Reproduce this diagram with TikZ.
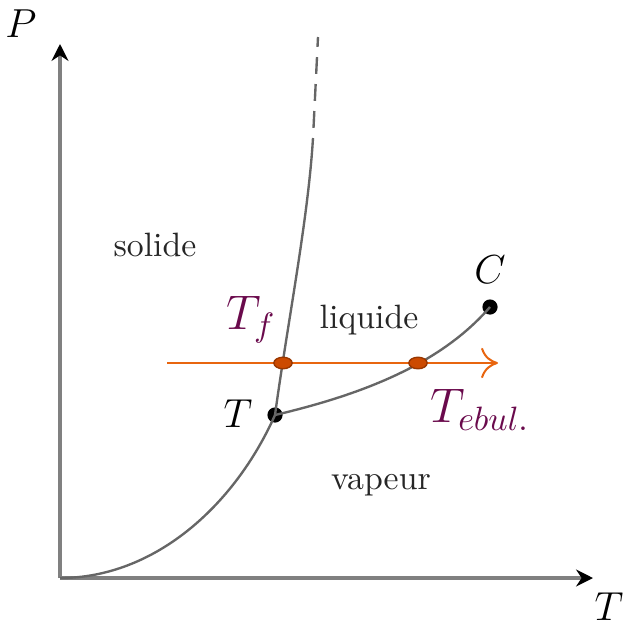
\documentclass[tikz,border=0pt]{standalone}
\usetikzlibrary{arrows.meta, shapes.geometric}
\definecolor{phase}{HTML}{6A0A4C}
\definecolor{coupe}{HTML}{E8650F}
\definecolor{pt}{HTML}{CC4A00}

\begin{document}
\begin{tikzpicture}[
    x=0.0104cm, y=-0.0104cm,
    axe/.style={draw=black!50, line width=1.0pt, -{Stealth[black, length=5pt, width=5pt]}},
    courbe/.style={draw=black!60, line width=0.7pt},
    lab/.style={text=black!85},
    dot/.style={circle, fill=black, inner sep=0pt, minimum size=4.5pt},
    inter/.style={ellipse, draw=pt!75!black, fill=pt, line width=0.4pt,
                  inner sep=0pt, minimum width=0.19cm, minimum height=0.12cm},
    tlab/.style={text=phase, font=\Large},
]
\useasboundingbox (0,0) rectangle (625,625);

% axes
\coordinate (o) at (60,578);
\coordinate (ptop) at (60,44);
\coordinate (tend) at (593,578);
\draw[axe] (o) -- (ptop);
\draw[axe] (o) -- (tend);
\node[font=\large] (pl) at (21,24) {$P$};
\node[font=\large] (tl) at (609,607) {$T$};

% points
\node[dot] (tp) at (275,415) {};
\node[dot] (cp) at (490,307) {};
\node[font=\large] (tpl) at (238,414) {$T$};
\node[font=\large] (cpl) at (490,270) {$C$};

% equilibrium curves
\coordinate (fus) at (313,138);
\coordinate (fustop) at (318,37);
\draw[courbe] (o) .. controls (155,578) and (235,505) .. (tp.center);
\draw[courbe] (tp.center) .. controls (288,320) and (308,220) .. (fus);
\draw[courbe, dash pattern=on 5pt off 3pt, dash phase=5pt] (fus) -- (fustop);
\draw[courbe] (tp.center) .. controls (360,395) and (440,365) .. (cp.center);

% regions
\node[lab] (sol) at (155,245) {solide};
\node[lab] (liq) at (369,320) {liquide};
\node[lab] (vap) at (381,485) {vapeur};

% isobar
\coordinate (a0) at (167,363);
\coordinate (a1) at (498,363);
\draw[coupe, line width=0.6pt, -{To[length=5pt, width=9pt]}] (a0) -- (a1);
\node[inter] (tf) at (283,363) {};
\node[inter] (teb) at (418,363) {};
\node[tlab] (tfl) at (251,320) {$T_f$};
\node[tlab] (tebl) at (480,410) {$T_{ebul.}$};

\end{tikzpicture}
\end{document}
